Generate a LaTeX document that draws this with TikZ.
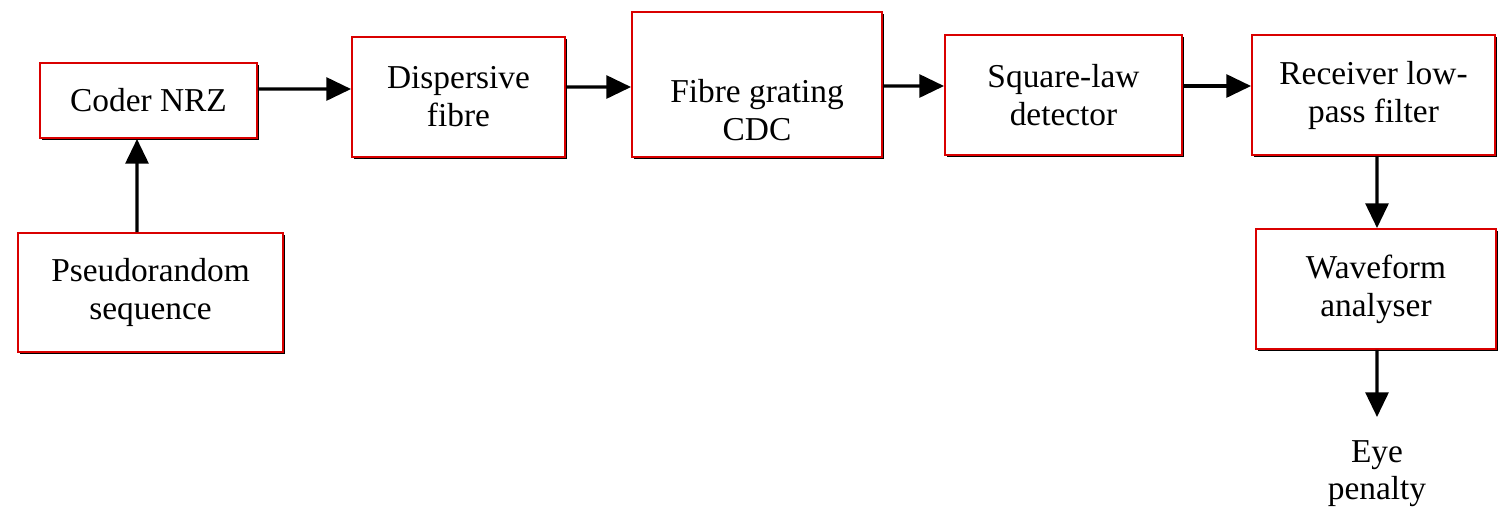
\documentclass[tikz,border=0pt]{standalone}
\usepackage{fontspec}
\setmainfont{Liberation Serif}
\usepackage{tikz}
\usetikzlibrary{arrows.meta,positioning,shadows,calc}

\begin{document}
\begin{tikzpicture}[
    block/.style={rectangle, draw=red!85!black, line width=0.55pt, fill=white, align=center,
      font=\fontsize{9.5}{10.8}\selectfont, inner sep=1pt,
      drop shadow={shadow xshift=0.45pt, shadow yshift=-0.45pt, fill=black, opacity=1}},
    arr/.style={line width=0.9pt, -{Triangle[length=7pt,width=6.5pt]}}
  ]

    \useasboundingbox (0,0) rectangle (15.1,-5.16);

    % Nodes
    \node[block, minimum width=2.17cm, minimum height=0.75cm] (coder) at (1.485,-1.005) {Coder NRZ};
    \node[block, minimum width=2.65cm, minimum height=1.19cm] (pseudo) at (1.505,-2.925) {Pseudorandom\\sequence};
    \node[block, minimum width=2.13cm, minimum height=1.2cm] (disp) at (4.585,-0.97) {Dispersive\\fibre};
    \node[block, minimum width=2.5cm, minimum height=1.45cm] (grating) at (7.57,-0.845) {\rule{0pt}{21pt}Fibre grating\\CDC};
    \node[block, minimum width=2.37cm, minimum height=1.2cm] (square) at (10.635,-0.95) {Square-law\\detector};
    \node[block, minimum width=2.43cm, minimum height=1.2cm] (receiver) at (13.735,-0.95) {Receiver low-\\pass filter};
    \node[block, minimum width=2.4cm, minimum height=1.2cm] (wave) at (13.76,-2.89) {Waveform\\analyser};
    \node[align=center, anchor=north, inner sep=2.3mm, font=\fontsize{9.5}{10.5}\selectfont] (eye) at (13.77,-4.17) {Eye\\penalty};

    % Connections
    \draw[arr] ([xshift=-1.35mm]pseudo.north) -- ([xshift=-1.15mm]coder.south);
    \draw[arr] ([yshift=1.15mm]coder.east) -- ([yshift=0.8mm]disp.west);
    \draw[arr] ([yshift=1mm]disp.east) -- ([yshift=-0.25mm]grating.west);
    \draw[arr] ([yshift=-0.15mm]grating.east) -- ([yshift=0.9mm]square.west);
    \draw[arr] ([yshift=0.9mm]square.east) -- ([yshift=0.9mm]receiver.west);
    \draw[arr] ([xshift=0.35mm]receiver.south) -- ([xshift=0.1mm]wave.north);
    \draw[arr] ([xshift=0.1mm]wave.south) -- (eye.north);

\end{tikzpicture}
\end{document}
